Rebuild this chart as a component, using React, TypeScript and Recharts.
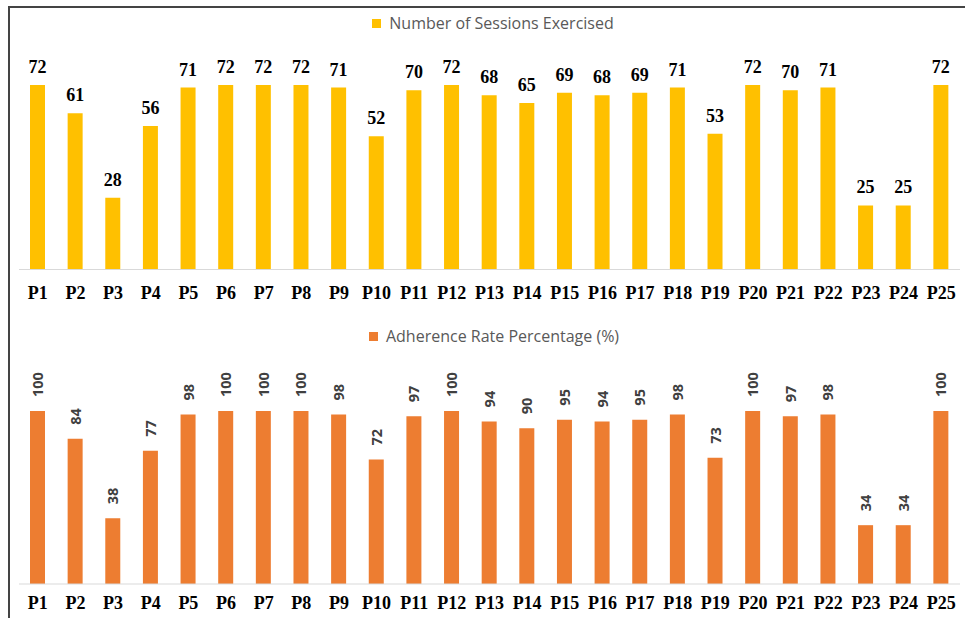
import { BarChart, Bar, XAxis, YAxis, LabelList, Legend } from "recharts";

const participants = [
  "P1", "P2", "P3", "P4", "P5", "P6", "P7", "P8", "P9", "P10", "P11", "P12", "P13",
  "P14", "P15", "P16", "P17", "P18", "P19", "P20", "P21", "P22", "P23", "P24", "P25",
];
const sessions = [72, 61, 28, 56, 71, 72, 72, 72, 71, 52, 70, 72, 68, 65, 69, 68, 69, 71, 53, 72, 70, 71, 25, 25, 72];
const adherence = [100, 84, 38, 77, 98, 100, 100, 100, 98, 72, 97, 100, 94, 90, 95, 94, 95, 98, 73, 100, 97, 98, 34, 34, 100];

const sessionsName = "Number of Sessions Exercised";
const adherenceName = "Adherence Rate Percentage (%)";

const data = participants.map((p, i) => ({ name: p, sessions: sessions[i], adherence: adherence[i] }));

const tickStyle = { fontFamily: "'Liberation Serif', 'Times New Roman', serif", fontWeight: 700, fontSize: 18, fill: "#000" };

function LegendBox({ color, label, padLeft }: { color: string; label: string; padLeft: number }) {
  return (
    <div style={{ display: "flex", justifyContent: "center", alignItems: "center", paddingLeft: padLeft, boxSizing: "border-box", width: 965 }}>
      <span style={{ width: 9, height: 9, background: color, display: "inline-block", marginRight: 8 }} />
      <span style={{ fontFamily: "'Open Sans', sans-serif", fontSize: 16, color: "#595959" }}>{label}</span>
    </div>
  );
}

// rotated value labels for the adherence bars
const renderRotated = (props: any) => {
  const { x, y, width, value } = props;
  const cx = x + width / 2;
  const ty = y - 14;
  return (
    <text
      x={cx}
      y={ty}
      transform={`rotate(-90, ${cx}, ${ty})`}
      textAnchor="start"
      dominantBaseline="central"
      fontFamily="'Open Sans', sans-serif"
      fontWeight={700}
      fontSize={14.5}
      fill="#404040"
    >
      {value}
    </text>
  );
};

export default function App() {
  return (
    <div style={{ position: "absolute", left: 0, top: 0, width: 965, height: 618, background: "#fff" }}>
      <div style={{ position: "absolute", left: 8, top: 6, width: 957, height: 612, borderTop: "2px solid #444", borderLeft: "2px solid #444", boxSizing: "border-box" }} />
      <div style={{ position: "absolute", left: 0, top: 0 }}>
        <BarChart width={965} height={310} data={data} margin={{ top: 64.5, right: 5, left: 19, bottom: 10.5 }}>
          <XAxis dataKey="name" interval={0} tickLine={false} axisLine={{ stroke: "#d9d9d9" }} tick={tickStyle} height={30} tickSize={6} tickMargin={10.5} />
          <YAxis hide domain={[0, 80]} />
          <Legend
            verticalAlign="middle"
            wrapperStyle={{ top: 12, left: 0, width: 965 }}
            content={() => <LegendBox color="#FFC000" label={sessionsName} padLeft={21} />}
          />
          <Bar dataKey="sessions" name={sessionsName} fill="#FFC000" barSize={15} isAnimationActive={false}>
            <LabelList dataKey="sessions" position="top" offset={12} style={{ fontFamily: "'Liberation Serif', serif", fontWeight: 700, fontSize: 18, fill: "#000" }} />
          </Bar>
        </BarChart>
      </div>
      <div style={{ position: "absolute", left: 0, top: 310 }}>
        <BarChart width={965} height={308} data={data} margin={{ top: 66.4, right: 5, left: 19, bottom: 4 }}>
          <XAxis dataKey="name" interval={0} tickLine={false} axisLine={{ stroke: "#d9d9d9" }} tick={tickStyle} height={30} tickSize={6} tickMargin={6} />
          <YAxis hide domain={[0, 120]} />
          <Legend
            verticalAlign="middle"
            wrapperStyle={{ top: 15, left: 0, width: 965 }}
            content={() => <LegendBox color="#ED7D31" label={adherenceName} padLeft={23} />}
          />
          <Bar dataKey="adherence" name={adherenceName} fill="#ED7D31" barSize={15} isAnimationActive={false}>
            <LabelList dataKey="adherence" content={renderRotated} />
          </Bar>
        </BarChart>
      </div>
    </div>
  );
}
